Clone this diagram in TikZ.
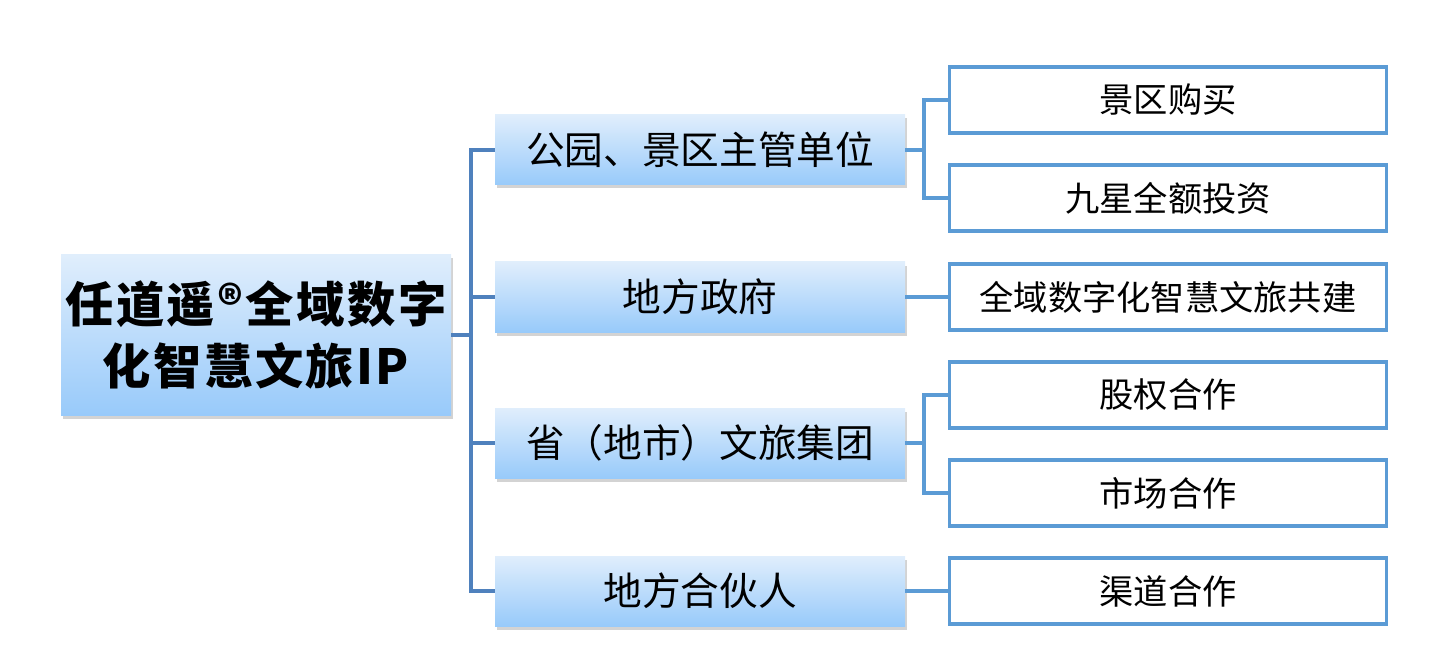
\documentclass[tikz,border=0pt]{standalone}
\usepackage{fontspec}
\setmainfont{Noto Sans CJK SC}
\usepackage{tikz}
\usetikzlibrary{positioning, calc, shadows}
\definecolor{cTop}{RGB}{224,238,252}
\definecolor{cBot}{RGB}{152,202,250}
\definecolor{cLinkL}{RGB}{79,129,189}
\definecolor{cLinkR}{RGB}{91,155,213}

\begin{document}
\begin{tikzpicture}[
    every node/.style={inner sep=0pt, align=center},
    root/.style={top color=cTop, bottom color=cBot, minimum width=7.8cm, minimum height=3.2cm,
                 drop shadow={shadow xshift=0.04cm, shadow yshift=-0.07cm, opacity=0.35},
                 font=\fontsize{27.5}{35}\selectfont\bfseries\addfontfeature{LetterSpace=5}},
    mid/.style={top color=cTop, bottom color=cBot, minimum width=8.2cm, minimum height=1.4cm,
                drop shadow={shadow xshift=0.04cm, shadow yshift=-0.07cm, opacity=0.35},
                font=\fontsize{22}{26}\selectfont},
    leaf/.style={draw=cLinkR, line width=2.2pt, fill=white, minimum width=8.74cm, minimum height=1.32cm,
                 font=\fontsize{19.5}{24}\selectfont},
    linkL/.style={draw=cLinkL, line width=2.3pt},
    linkR/.style={draw=cLinkR, line width=2.3pt}]

    \useasboundingbox (0,0) rectangle (28.7,13.3);

    % Root
    \node[root] (root) at (5.12,6.6) {任道遥®全域数字\\化智慧文旅IP};

    % Second level
    \node[mid] (m1) at (14.0,10.3) {公园、景区主管单位};
    \node[mid] (m2) at (14.0,7.36) {地方政府};
    \node[mid] (m3) at (14.0,4.44) {省（地市）文旅集团};
    \node[mid] (m4) at (14.0,1.48) {地方合伙人};

    % Leaves
    \node[leaf] (l1) at (23.36,11.3) {景区购买};
    \node[leaf] (l2) at (23.36,9.34) {九星全额投资};
    \node[leaf] (l3) at (23.36,7.36) {全域数字化智慧文旅共建};
    \node[leaf] (l4) at (23.36,5.4)  {股权合作};
    \node[leaf] (l5) at (23.36,3.44) {市场合作};
    \node[leaf] (l6) at (23.36,1.48) {渠道合作};

    % Trunk
    \coordinate (trunk) at (9.42,6.6);
    \draw[linkL] (root.east) -- (trunk);
    \draw[linkL] (m1.west) -| (trunk) |- (m4.west);
    \draw[linkL] (trunk |- m2.west) -- (m2.west);
    \draw[linkL] (trunk |- m3.west) -- (m3.west);

    % Brackets
    \coordinate (b1) at (18.48,10.3);
    \coordinate (b3) at (18.48,4.44);
    \draw[linkR] (m1.east) -- (b1);
    \draw[linkR] (l1.west) -| (b1) |- (l2.west);
    \draw[linkR] (m2.east) -- (l3.west);
    \draw[linkR] (m3.east) -- (b3);
    \draw[linkR] (l4.west) -| (b3) |- (l5.west);
    \draw[linkR] (m4.east) -- (l6.west);
\end{tikzpicture}
\end{document}
